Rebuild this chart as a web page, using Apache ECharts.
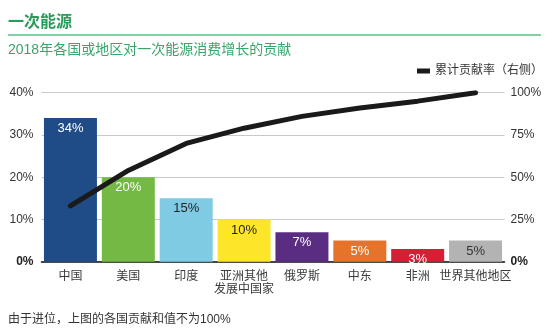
<!DOCTYPE html>
<html><head><meta charset="utf-8">
<script src="https://cdn.jsdelivr.net/npm/echarts@6/dist/echarts.min.js"></script>
<style>html,body{margin:0;padding:0;background:#fff}#c{width:558px;height:335px}</style>
</head><body><div id="c"></div>
<script>
const categories = ['中国','美国','印度','亚洲其他\n发展中国家','俄罗斯','中东','非洲','世界其他地区'];
const contribution = [34,20,15,10,7,5,3,5];
const cumulative = [33,54,70,79,86,91,95,100];
const barColors = ['#1f4b87','#74b944','#80cbe4','#fde52a','#5a2d83','#e5742a','#d41f35','#b3b3b3'];
const labelColors = ['#fff','#fff','#222','#222','#fff','#fff','#fff','#333'];
const leftTicks = [0,10,20,30,40];
const rightTicks = [0,25,50,75,100];
const FONT = '"Liberation Sans","Noto Sans CJK SC",sans-serif';

const chart = echarts.init(document.getElementById('c'));
const pctFmt = v => v === 0 ? '{b|0%}' : v + '%';
const rightFmt = v => v === 0 ? '{b|0%}' : v + '%';
chart.setOption({
  animation: false,
  textStyle: {fontFamily: FONT},
  title: [
    {text: '一次能源', left: 8, top: 15, padding: 0,
     textStyle: {fontSize: 16, fontWeight: 'bold', color: '#2a9b5b', fontFamily: FONT}},
    {text: '2018年各国或地区对一次能源消费增长的贡献', left: 8, top: 43, padding: 0,
     textStyle: {fontSize: 14, fontWeight: 'normal', color: '#3aa56a', fontFamily: FONT}},
    {text: '由于进位，上图的各国贡献和值不为100%', left: 8, top: 314, padding: 0,
     textStyle: {fontSize: 12, fontWeight: 'normal', color: '#333', fontFamily: FONT}}
  ],
  graphic: [{type: 'line', shape: {x1: 8, y1: 35, x2: 541, y2: 35},
             style: {stroke: '#5cbf8a', lineWidth: 1.5}}],
  legend: {
    data: ['累计贡献率（右侧）'], right: 15, top: 65, padding: 0,
    icon: 'rect', itemWidth: 13, itemHeight: 5, itemGap: 5,
    textStyle: {fontSize: 12, color: '#333', fontFamily: FONT}
  },
  grid: {left: 41.5, right: 53.5, top: 92.7, bottom: 73.3, containLabel: false},
  xAxis: {
    type: 'category', data: categories,
    axisLine: {lineStyle: {color: '#111', width: 1.5}},
    axisTick: {show: false},
    axisLabel: {fontSize: 12, color: '#3a3a3a', margin: 8, lineHeight: 13, interval: 0, fontFamily: FONT}
  },
  yAxis: [
    {type: 'value', min: 0, max: 40, interval: 10,
     axisLine: {show: false}, axisTick: {show: false},
     splitLine: {lineStyle: {color: '#c8c8c8', width: 1}},
     axisLabel: {formatter: pctFmt, fontSize: 12, color: '#333', margin: 8,
                 rich: {b: {fontWeight: 'bold', fontSize: 12, color: '#222'}}}},
    {type: 'value', min: 0, max: 100, interval: 25, position: 'right',
     axisLine: {show: false}, axisTick: {show: false}, splitLine: {show: false},
     axisLabel: {formatter: rightFmt, fontSize: 12, color: '#333', margin: 6,
                 rich: {b: {fontWeight: 'bold', fontSize: 12, color: '#222'}}}}
  ],
  series: [
    {type: 'bar', name: '贡献', barWidth: 53,
     data: contribution.map((v, i) => ({value: v,
       itemStyle: {color: barColors[i]},
       label: {color: labelColors[i]}})),
     label: {show: true, position: 'insideTop', distance: 4, fontSize: 13,
             formatter: p => p.value + '%'}},
    {type: 'line', name: '累计贡献率（右侧）', yAxisIndex: 1, data: cumulative,
     symbol: 'none', lineStyle: {color: '#1a1a1a', width: 5, cap: 'round', join: 'round'},
     itemStyle: {color: '#1a1a1a'}}
  ]
});
</script></body></html>
